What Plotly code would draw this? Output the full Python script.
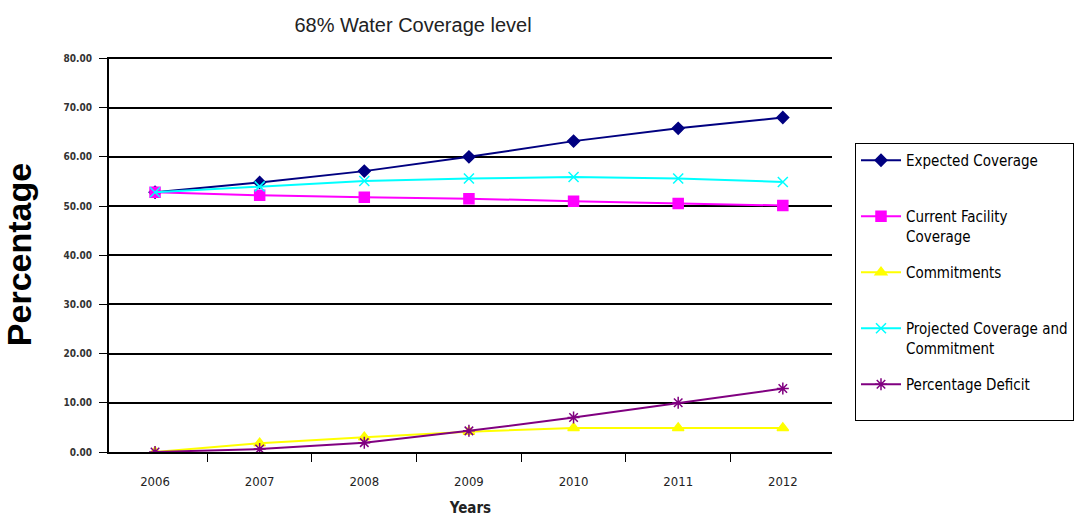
import plotly.graph_objects as go

years = ["2006", "2007", "2008", "2009", "2010", "2011", "2012"]
expected = [52.8, 54.8, 57.1, 60.0, 63.2, 65.8, 68.0]
current = [52.8, 52.2, 51.8, 51.5, 51.0, 50.5, 50.1]
commitments = [0.0, 1.8, 3.0, 4.1, 4.9, 4.9, 4.9]
projected = [52.8, 54.0, 55.1, 55.6, 55.9, 55.6, 54.9]
deficit = [0.0, 0.6, 1.9, 4.3, 7.0, 10.0, 12.9]
y_ticks = [0, 10, 20, 30, 40, 50, 60, 70, 80]

xs = list(range(len(years)))
narrow = "DejaVu Sans Condensed, Liberation Sans Narrow, Arial Narrow, Liberation Sans, Arial"

series = [
    ("Expected Coverage<br> ", expected, "#000080", "diamond", 9, 2),
    ("Current Facility<br>Coverage", current, "#FF00FF", "square", 10, 2),
    ("Commitments<br> ", commitments, "#FFFF00", "triangle-up", 10, 2),
    ("Projected Coverage and<br>Commitment", projected, "#00FFFF", "x-thin-open", 10, 2),
    ("Percentage Deficit<br> ", deficit, "#800080", "asterisk-open", 10, 2),
]

fig = go.Figure()
for i, (name, vals, col, sym, sz, w) in enumerate(series):
    fig.add_trace(go.Scatter(
        x=xs, y=vals, name=name, mode="lines+markers",
        line=dict(color=col, width=w),
        marker=dict(symbol=sym, size=sz, color=col, line=dict(color=col, width=1.5)),
        legendgroup=str(i),
    ))

fig.update_layout(
    width=1085, height=517,
    paper_bgcolor="white", plot_bgcolor="white",
    margin=dict(l=109, r=253, t=57, b=65, autoexpand=False),
    title=dict(text="68% Water Coverage level", x=413 / 1085, xanchor="center",
               y=1 - 25 / 517, yanchor="middle",
               font=dict(family="Liberation Sans, Arial", size=20, color="#222")),
    showlegend=True,
    legend=dict(x=(855 - 109) / 723, y=(452 - 143) / 395, xanchor="left", yanchor="top",
                bordercolor="black", borderwidth=1, bgcolor="white",
                font=dict(family=narrow, size=15, color="black"),
                valign="top", tracegroupgap=14, itemwidth=40),
    xaxis=dict(
        range=[-0.44, 6.47], tickmode="array", tickvals=xs, ticktext=years,
        ticks="", showgrid=False, zeroline=False,
        showline=True, linecolor="black", linewidth=2,
        tickfont=dict(family=narrow, size=13, color="#222"),
        ticklabelstandoff=16,
        minor=dict(tickmode="array", tickvals=[i + 0.5 for i in xs], ticks="outside",
                   ticklen=8, tickcolor="black", tickwidth=1, showgrid=False),
        title=dict(text="<b>Years</b>", font=dict(family=narrow, size=15, color="#222"),
                   standoff=16),
    ),
    yaxis=dict(
        range=[0, 80.3], tickmode="array", tickvals=y_ticks, tickformat=".2f",
        showgrid=True, gridcolor="black", gridwidth=2, zeroline=False,
        showline=True, linecolor="black", linewidth=2,
        ticks="outside", ticklen=8, tickcolor="black", tickwidth=1,
        ticklabelstandoff=5,
        tickfont=dict(family=narrow, size=10, color="#333", weight="bold"),
        title=dict(text="<b>Percentage</b>", font=dict(family="Liberation Sans, Arial", size=34, color="black"),
                   standoff=25),
    ),
)

fig.write_html("out.html")
